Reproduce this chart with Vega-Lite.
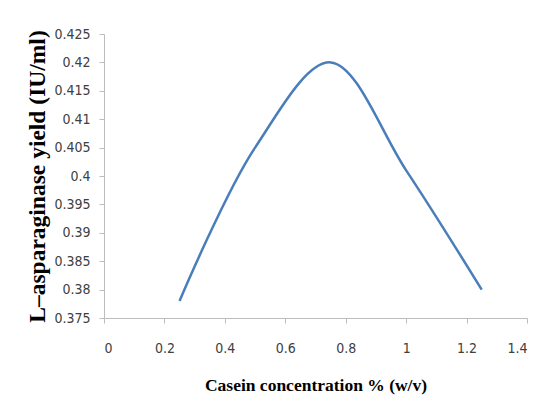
{
  "$schema": "https://vega.github.io/schema/vega-lite/v6.json",
  "width": 423,
  "height": 284,
  "autosize": "none",
  "padding": {"left": 104, "top": 34, "right": 12, "bottom": 95},
  "background": "white",
  "config": {"view": {"stroke": null}},
  "data": {"values": [
    {"x": 0.25, "y": 0.378},
    {"x": 0.5, "y": 0.405},
    {"x": 0.75, "y": 0.420},
    {"x": 1.0, "y": 0.401},
    {"x": 1.25, "y": 0.380}
  ]},
  "mark": {"type": "line", "interpolate": "catmull-rom", "color": "#4A7EBB", "strokeWidth": 2.5},
  "encoding": {
    "x": {
      "field": "x", "type": "quantitative",
      "scale": {"domain": [0, 1.4], "nice": false, "zero": false},
      "axis": {
        "values": [0, 0.2, 0.4, 0.6, 0.8, 1, 1.2, 1.4],
        "format": "~g",
        "grid": false,
        "domainColor": "#BDBDBD", "tickColor": "#BDBDBD", "tickSize": 5,
        "labelFont": "DejaVu Sans Condensed", "labelFontSize": 14, "labelColor": "#404040",
        "labelPadding": 18,
        "title": "Casein concentration % (w/v)",
        "titleFont": "Liberation Serif", "titleFontSize": 17.5, "titleFontWeight": "bold", "titleColor": "black",
        "titlePadding": 21
      }
    },
    "y": {
      "field": "y", "type": "quantitative",
      "scale": {"domain": [0.375, 0.425], "nice": false, "zero": false},
      "axis": {
        "values": [0.375, 0.38, 0.385, 0.39, 0.395, 0.4, 0.405, 0.41, 0.415, 0.42, 0.425],
        "format": "~g",
        "grid": false,
        "domainColor": "#BDBDBD", "tickColor": "#BDBDBD", "tickSize": 5,
        "labelFont": "DejaVu Sans Condensed", "labelFontSize": 14, "labelColor": "#404040",
        "labelPadding": 9,
        "title": "L–asparaginase yield (IU/ml)",
        "titleFont": "Liberation Serif", "titleFontSize": 23.5, "titleFontWeight": "bold", "titleColor": "black",
        "titlePadding": 4
      }
    }
  }
}
